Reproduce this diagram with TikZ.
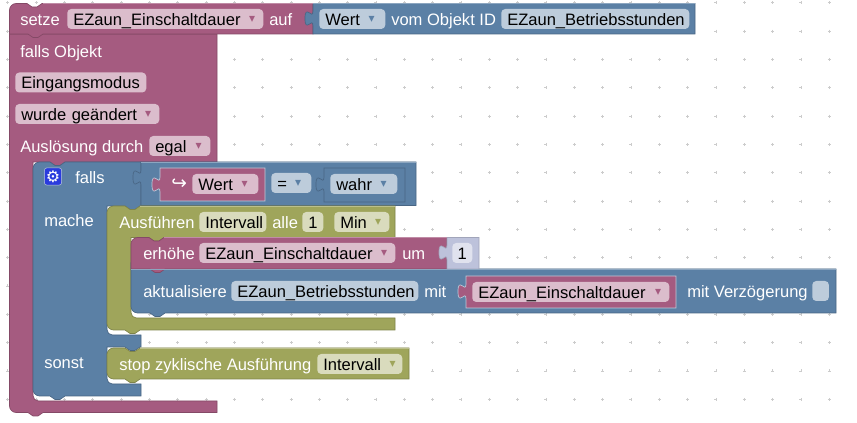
\documentclass[tikz,border=0pt]{standalone}
\usepackage{fontspec}
\setmainfont{Liberation Sans}
\newfontfamily\symfont{DejaVu Sans}
\definecolor{pinkb}{HTML}{A55B80}
\definecolor{pinkd}{HTML}{844966}
\definecolor{pinkl}{HTML}{C08CA6}
\definecolor{pinkf}{HTML}{DBBDCC}
\definecolor{blueb}{HTML}{5B80A5}
\definecolor{blued}{HTML}{496684}
\definecolor{bluel}{HTML}{8CA6C0}
\definecolor{bluef}{HTML}{BDCCDB}
\definecolor{oliveb}{HTML}{9FA55B}
\definecolor{olived}{HTML}{7F8449}
\definecolor{olivel}{HTML}{BCC08C}
\definecolor{olivef}{HTML}{D9DBBD}
\definecolor{numb}{HTML}{BDC2DB}
\definecolor{numf}{HTML}{E0E2EE}
\definecolor{gearb}{HTML}{2A3BDD}
% notch going right, notch going back, puzzle tab going up
\newcommand{\notch}{-- ++(5,3.5) -- ++(5,0) -- ++(5,-3.5)}
\newcommand{\notchback}{-- ++(-5,3.5) -- ++(-5,0) -- ++(-5,-3.5)}
\newcommand{\puzzle}{.. controls +(0,-10) and +(0,15.5) .. ++(-8,-7.5) .. controls +(0,-15.5) and +(0,10) .. ++(8,-7.5)}
\newcommand{\droparrow}[3][8.5pt]{\node[droparr,text=#3] (#2 arrow) at ([xshift=-#1]#2.east) {▾};}
\tikzset{
  pinkblock/.style={fill=pinkb,draw=pinkd,line width=.5pt},
  blueblock/.style={fill=blueb,draw=blued,line width=.5pt},
  oliveblock/.style={fill=oliveb,draw=olived,line width=.5pt},
  numblock/.style={fill=numb,draw=numb!85!black,line width=.5pt},
  griddot/.style={draw=black!20,line width=.35pt},
  lab/.style={anchor=west,inner sep=0pt,text=white,text height=11.5pt,text depth=2pt},
  fieldbox/.style={anchor=west,rounded corners=3pt,inner xsep=4.5pt,inner ysep=0pt,text=black,
    text height=11.5pt,text depth=2pt,minimum height=15pt,text width={#1*0.75pt-9pt}},
  pinkf/.style={fieldbox=#1,fill=pinkf},
  bluef/.style={fieldbox=#1,fill=bluef},
  olivef/.style={fieldbox=#1,fill=olivef},
  droparr/.style={font=\symfont\fontsize{9}{9}\selectfont,inner sep=0pt}
}
\begin{document}
\begin{tikzpicture}[x=0.75pt,y=-0.75pt,font=\fontsize{12.4}{15}\selectfont]
  \useasboundingbox (0,0) rectangle (857,423);
  \fill[white] (0,0) rectangle (857,423);

  \foreach \i in {0,...,29}
    \foreach \j in {0,...,14}
      \draw[griddot] ({7.7+28.33*\i},{2.7+28.33*\j}) +(-1.5,0) -- +(1.5,0) +(0,-1.5) -- +(0,1.5);

  % falls Objekt
  \draw[pinkblock] (9.5,34) -- (217,34) -- (217,162) -- (65,162) \notchback -- (33,162) [rounded corners=4pt] -- (33,401) [sharp corners]
    -- (217,401) -- (217,412.5) -- (43,412.5) \notchback [rounded corners=5pt] -- (9.5,412.5) -- (9.5,34) [sharp corners] -- cycle;

  % setze ... auf
  \draw[pinkblock] (9.5,34) [rounded corners=5pt] -- (9.5,3.5) [sharp corners] -- (27,3.5) \notch
    -- (313,3.5) -- (313,34) -- (43,34) \notchback -- cycle;
  \draw[blueblock] (313,34) -- (313,26) \puzzle -- (313,3.5) -- (695,3.5) -- (695,34) -- cycle;

  % falls / mache / sonst
  \draw[blueblock] (33,180) [rounded corners=5pt] -- (33,162) [sharp corners] -- (50,162) \notch -- (141,162) -- (141,206)
    -- (140,206) \notchback -- (107,206) [rounded corners=4pt] -- (107,335) [sharp corners] -- (141,335) -- (141,347)
    -- (140,347) \notchback -- (107,347) [rounded corners=4pt] -- (107,384) [sharp corners] -- (141,384) -- (141,396)
    -- (65,396) \notchback [rounded corners=5pt] -- (33,396) -- (33,180) [sharp corners] -- cycle;
  \draw[blueblock] (141,205.5) -- (141,185) \puzzle -- (141,162) -- (416,162) -- (416,205.5) -- cycle;
  \draw[pinkblock,draw=bluef] (160,201) -- (160,192) \puzzle -- (160,168) -- (265,168) -- (265,201) -- cycle;
  \draw[blueblock] (324,202) -- (324,192) \puzzle -- (324,168) -- (405,168) -- (405,202) -- cycle;

  % Ausfuehren
  \draw[oliveblock] (107,225) [rounded corners=5pt] -- (107,206) [sharp corners] -- (125,206) \notch -- (395,206) -- (395,237.5)
    -- (164,237.5) \notchback -- (131,237.5) [rounded corners=4pt] -- (131,318) [sharp corners] -- (395,318) -- (395,330) -- (140,330) \notchback
    [rounded corners=5pt] -- (107,330) -- (107,225) [sharp corners] -- cycle;
  \draw[blueblock] (131,269) -- (836,269) -- (836,313) -- (165,313) \notchback [rounded corners=5pt] -- (131,313) -- (131,269) [sharp corners] -- cycle;
  \draw[pinkblock] (131,269) [rounded corners=5pt] -- (131,237.5) [sharp corners] -- (149,237.5) \notch -- (447,237.5) -- (447,269)
    -- (165,269) \notchback -- cycle;
  \draw[numblock] (447,269) -- (447,260) \puzzle -- (447,237.5) -- (479,237.5) -- (479,269) -- cycle;
  \draw[pinkblock,draw=bluef] (466,308) -- (466,299) \puzzle -- (466,276) -- (676,276) -- (676,308) -- cycle;

  % stop
  \draw[oliveblock] (107,360) [rounded corners=5pt] -- (107,348) [sharp corners] -- (125,348) \notch -- (409,348) -- (409,379)
    -- (140,379) \notchback [rounded corners=5pt] -- (107,379) -- (107,360) [sharp corners] -- cycle;

  % light top edges
  \foreach \a/\b/\y/\c in {43/313/3.5/pinkl,164/447/237.5/pinkl,313/695/3.5/bluel,141/416/162/bluel,131/836/269/bluel,140/395/206/olivel,140/409/348/olivel}
    \draw[\c,line width=.6pt] (\a,\y) -- (\b,\y);

  \node[lab] (setze) at (20,19) {setze};
  \node[pinkf=196] (einschalt) at (67,19) {EZaun\_Einschaltdauer};
  \node[lab] (auf) at (269,19) {auf};
  \node[bluef=66] (wert) at (319,19) {Wert};
  \node[lab] (vom) at (391,19) {vom Objekt ID};
  \node[bluef=188] (betrieb) at (501,19) {EZaun\_Betriebsstunden};

  \node[lab] (fallsobj) at (20,51) {falls Objekt};
  \node[pinkf=131] (eingang) at (15,82.5) {Eingangsmodus};
  \node[pinkf=144] (geaendert) at (15,114) {wurde geändert};
  \node[lab] (ausl) at (20,146) {Auslösung durch};
  \node[pinkf=61] (egal) at (149,146) {egal};

  \node[fill=gearb,draw=bluef,line width=.4pt,rounded corners=2pt,minimum size=13pt,inner sep=0pt,text=white,font=\symfont\fontsize{12}{12}\selectfont] (gear) at (53,176.5) {⚙};
  \node[lab] (falls) at (75,177) {falls};
  \node[lab,font=\symfont\fontsize{14}{14}\selectfont,text height=8pt,text depth=0pt] (pfeil) at (171,184) {↪};
  \node[pinkf=66] (wert2) at (192,184) {Wert};
  \node[bluef=40] (gleich) at (271,183) {=};
  \node[bluef=67] (wahr) at (330,184) {wahr};

  \node[lab] (mache) at (44,220) {mache};
  \node[lab] (ausf) at (119,222) {Ausführen};
  \node[olivef=67] (intervall) at (199,222) {Intervall};
  \node[lab] (alle) at (272,222) {alle};
  \node[olivef=21] (eins) at (302,222) {1};
  \node[olivef=55] (minu) at (334,222) {Min};

  \node[lab] (erhoehe) at (143,253) {erhöhe};
  \node[pinkf=196] (einschalt2) at (199,253) {EZaun\_Einschaltdauer};
  \node[lab] (um) at (402,253) {um};
  \node[anchor=west,rounded corners=3pt,fill=numf,minimum width=15pt,minimum height=15pt,inner sep=0pt,text=black,text height=11.5pt,text depth=2pt] (eins2) at (452,253) {1};

  \node[lab] (aktual) at (143,291) {aktualisiere};
  \node[bluef=187] (betrieb2) at (231,291) {EZaun\_Betriebsstunden};
  \node[lab] (mit) at (424,291) {mit};
  \node[pinkf=197] (einschalt3) at (472,292) {EZaun\_Einschaltdauer};
  \node[lab] (verz) at (687,291) {mit Verzögerung};
  \node[anchor=west,rounded corners=3pt,fill=bluef,minimum width=12.5pt,minimum height=15pt,inner sep=0pt] (check) at (812,291) {};

  \node[lab] (sonst) at (44,362) {sonst};
  \node[lab] (stopz) at (119,364) {stop zyklische Ausführung};
  \node[olivef=85] (intervall2) at (317,364) {Intervall};

  \droparrow{einschalt}{pinkb}
  \droparrow[10.5pt]{wert}{blueb}
  \droparrow{geaendert}{pinkb}
  \droparrow[9pt]{egal}{pinkb}
  \droparrow[10.5pt]{wert2}{pinkb}
  \droparrow[10pt]{gleich}{blueb}
  \droparrow[10.5pt]{wahr}{blueb}
  \droparrow{minu}{oliveb}
  \droparrow{einschalt2}{pinkb}
  \droparrow{einschalt3}{pinkb}
  \droparrow[7.5pt]{intervall2}{oliveb}
\end{tikzpicture}
\end{document}
